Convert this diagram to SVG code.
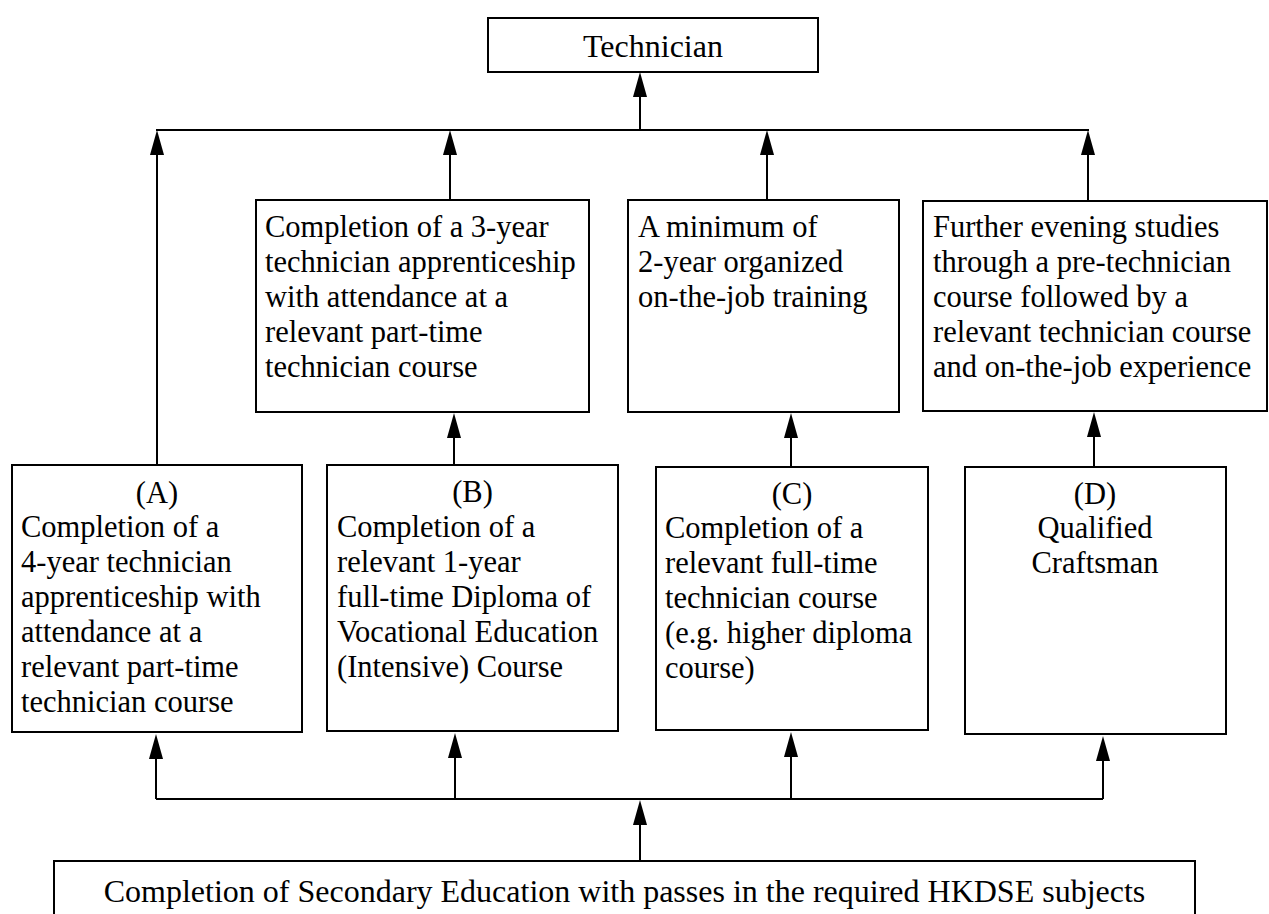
<svg xmlns="http://www.w3.org/2000/svg" width="1269" height="914" viewBox="0 0 1269 914">
  <style>
    .box { fill: #ffffff; stroke: #000000; stroke-width: 2; }
    .wire { fill: none; stroke: #000000; stroke-width: 2; }
    .arrow { fill: none; stroke: #000000; stroke-width: 2; marker-end: url(#head); }
    text { font-family: "Liberation Serif", "Times New Roman", serif; font-size: 30.5px; fill: #000000; }
    .mid { text-anchor: middle; }
  </style>
  <defs>
    <marker id="head" markerUnits="userSpaceOnUse" markerWidth="25" markerHeight="14" refX="15" refY="7" orient="auto">
      <path d="M0,0 L25,7 L0,14 z" fill="#000000"/>
    </marker>
  </defs>
  <rect width="1269" height="914" fill="#ffffff"/>

  <!-- connectors -->
  <g id="connectors">
    <!-- bottom bus from secondary education -->
    <line class="arrow" x1="640" y1="861" x2="640" y2="810"/>
    <line class="wire" x1="156" y1="799" x2="1103" y2="799"/>
    <line class="arrow" x1="156" y1="799" x2="156" y2="744"/>
    <line class="arrow" x1="455" y1="799" x2="455" y2="743"/>
    <line class="arrow" x1="791" y1="799" x2="791" y2="742"/>
    <line class="arrow" x1="1103" y1="799" x2="1103" y2="746"/>
    <!-- routes B, C, D to their further steps -->
    <line class="arrow" x1="454" y1="465" x2="454" y2="423"/>
    <line class="arrow" x1="791" y1="467" x2="791" y2="423"/>
    <line class="arrow" x1="1094" y1="467" x2="1094" y2="422"/>
    <!-- top bus to technician -->
    <line class="arrow" x1="157" y1="465" x2="157" y2="140"/>
    <line class="arrow" x1="450" y1="200" x2="450" y2="140"/>
    <line class="arrow" x1="767" y1="200" x2="767" y2="140"/>
    <line class="arrow" x1="1088" y1="201" x2="1088" y2="140"/>
    <line class="wire" x1="156" y1="130" x2="1089" y2="130"/>
    <line class="arrow" x1="640" y1="130" x2="640" y2="82"/>
  </g>

  <g id="technician">
    <rect class="box" x="488" y="18" width="330" height="54"/>
    <text class="mid" x="653" y="57" style="font-size:32px">Technician</text>
  </g>

  <g id="apprenticeship-3yr">
    <rect class="box" x="256" y="200" width="333" height="212"/>
    <text x="265" y="237">Completion of a 3-year</text>
    <text x="265" y="272">technician apprenticeship</text>
    <text x="265" y="307">with attendance at a</text>
    <text x="265" y="342">relevant part-time</text>
    <text x="265" y="377">technician course</text>
  </g>

  <g id="on-the-job">
    <rect class="box" x="628" y="200" width="271" height="212"/>
    <text x="638" y="237">A minimum of</text>
    <text x="638" y="272">2-year organized</text>
    <text x="638" y="307">on-the-job training</text>
  </g>

  <g id="evening-studies">
    <rect class="box" x="923" y="201" width="344" height="210"/>
    <text x="933" y="237">Further evening studies</text>
    <text x="933" y="272">through a pre-technician</text>
    <text x="933" y="307">course followed by a</text>
    <text x="933" y="342">relevant technician course</text>
    <text x="933" y="377">and on-the-job experience</text>
  </g>

  <g id="route-a">
    <rect class="box" x="12" y="465" width="290" height="267"/>
    <text class="mid" x="157" y="503">(A)</text>
    <text x="21" y="537">Completion of a</text>
    <text x="21" y="572">4-year technician</text>
    <text x="21" y="607">apprenticeship with</text>
    <text x="21" y="642">attendance at a</text>
    <text x="21" y="677">relevant part-time</text>
    <text x="21" y="712">technician course</text>
  </g>

  <g id="route-b">
    <rect class="box" x="327" y="465" width="291" height="266"/>
    <text class="mid" x="472.5" y="502">(B)</text>
    <text x="337" y="537">Completion of a</text>
    <text x="337" y="572">relevant 1-year</text>
    <text x="337" y="607">full-time Diploma of</text>
    <text x="337" y="642">Vocational Education</text>
    <text x="337" y="677">(Intensive) Course</text>
  </g>

  <g id="route-c">
    <rect class="box" x="656" y="467" width="272" height="263"/>
    <text class="mid" x="792" y="504">(C)</text>
    <text x="665" y="538">Completion of a</text>
    <text x="665" y="573">relevant full-time</text>
    <text x="665" y="608">technician course</text>
    <text x="665" y="643">(e.g. higher diploma</text>
    <text x="665" y="678">course)</text>
  </g>

  <g id="route-d">
    <rect class="box" x="965" y="467" width="261" height="267"/>
    <text class="mid" x="1095" y="504">(D)</text>
    <text class="mid" x="1095" y="538">Qualified</text>
    <text class="mid" x="1095" y="573">Craftsman</text>
  </g>

  <g id="secondary-education">
    <rect class="box" x="54" y="861" width="1141" height="70"/>
    <text class="mid" x="624.5" y="902" style="font-size:32px">Completion of Secondary Education with passes in the required HKDSE subjects</text>
  </g>
</svg>
